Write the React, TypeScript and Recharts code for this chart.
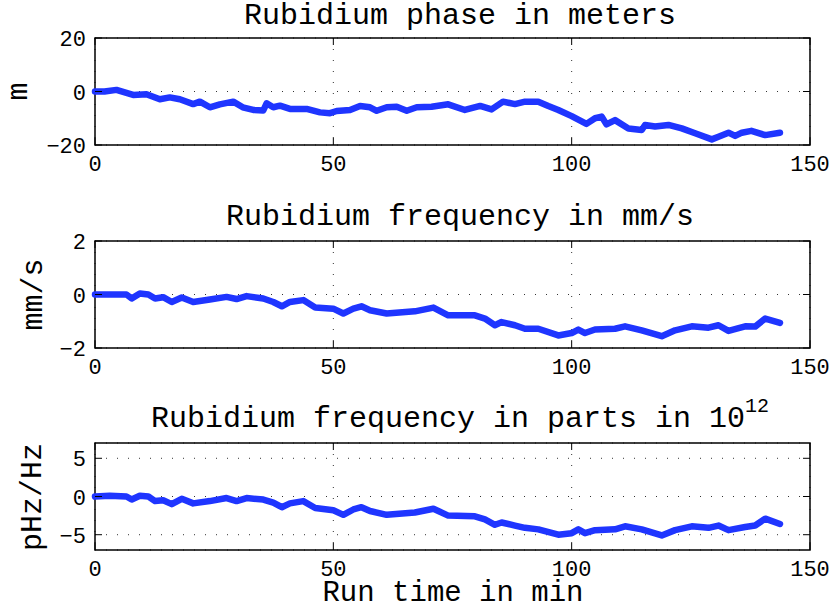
import React from 'react';
import {
    LineChart,
    Line,
    XAxis,
    YAxis,
    CartesianGrid,
    ReferenceArea,
} from 'recharts';

// run time (min) and values
const phaseTime = [
    0, 2, 4.5, 8, 10.8, 13.6, 15.7, 17.8, 20.6, 22, 24.1, 26.2, 29, 31, 33.2,
    35.3, 36, 37.4, 38.8, 40.9, 44.4, 47.2, 49.3, 50.7, 53.5, 55.6, 57.7, 59.1,
    61.2, 63.3, 65.4, 67.5, 70.6, 74.1, 77.6, 80.8, 83.2, 85.6, 88.1, 90.2, 93,
    95.1, 97.2, 100, 103.1, 104.9, 106.3, 107.3, 109.1, 111.9, 114.7, 115.4,
    117.5, 120.3, 123.1, 125.9, 129.4, 130.8, 132.9, 134.3, 135.7, 137.7, 140.6,
    143.7,
];
const phaseMeters = [
    0, 0, 0.6, -1.3, -1, -2.9, -2.2, -2.9, -4.7, -3.8, -5.9, -4.8, -3.8, -5.9,
    -6.9, -7.1, -4.4, -5.9, -5.3, -6.5, -6.5, -7.8, -8.1, -7.3, -6.9, -5.4, -5.9,
    -7.2, -5.9, -5.7, -7.2, -5.9, -5.7, -4.8, -6.9, -5.4, -6.7, -3.8, -4.7, -3.8,
    -3.8, -5.4, -6.9, -9.2, -12.1, -10, -9.4, -12.3, -10.7, -13.8, -14.4, -12.5,
    -13.1, -12.5, -13.8, -15.6, -17.9, -16.9, -15.4, -16.6, -15.4, -14.7, -16.3,
    -15.4,
];

const freqTime = [
    0, 3.1, 6.6, 7.7, 9.4, 11.2, 12.6, 14.3, 16.1, 18.2, 20.6, 24.1, 27.6, 29.7,
    31.8, 35.3, 37.4, 39.2, 40.9, 43.7, 46.2, 50, 52.1, 54.2, 55.9, 57.7, 61.2,
    67.1, 71, 74.1, 79.7, 81.8, 83.9, 85.3, 88.1, 90.2, 93, 97.2, 100, 101.4,
    102.8, 104.9, 109.1, 111.2, 114.7, 118.9, 121.7, 125.2, 128.7, 130.8, 132.9,
    136.4, 138.5, 140.6, 143.7,
];
const freqMmPerSec = [
    0, 0, 0, -0.15, 0.04, 0, -0.15, -0.1, -0.28, -0.11, -0.28, -0.19, -0.09,
    -0.17, -0.06, -0.15, -0.28, -0.44, -0.28, -0.21, -0.49, -0.53, -0.71, -0.53,
    -0.44, -0.59, -0.71, -0.63, -0.49, -0.78, -0.78, -0.9, -1.15, -1.03, -1.15,
    -1.28, -1.28, -1.53, -1.44, -1.31, -1.44, -1.31, -1.28, -1.19, -1.34, -1.56,
    -1.34, -1.19, -1.24, -1.15, -1.36, -1.19, -1.2, -0.9, -1.06,
];
const freqParts = [
    0, 0.1, 0, -0.4, 0.1, 0, -0.6, -0.5, -1.0, -0.3, -0.9, -0.6, -0.2, -0.6,
    -0.2, -0.4, -0.8, -1.4, -0.9, -0.6, -1.5, -1.8, -2.4, -1.7, -1.4, -1.9, -2.4,
    -2.1, -1.6, -2.5, -2.6, -3.0, -3.7, -3.4, -3.8, -4.1, -4.3, -5.0, -4.8, -4.3,
    -4.8, -4.4, -4.3, -3.9, -4.3, -5.1, -4.4, -3.9, -4.1, -3.8, -4.4, -4.0, -3.8,
    -2.9, -3.6,
];

const xTicks = [0, 50, 100, 150];
const phaseTicks = [-20, 0, 20];
const mmTicks = [-2, 0, 2];
const partsTicks = [-5, 0, 5];

const FONT = '"Liberation Mono", "DejaVu Sans Mono", monospace';
const BLUE = '#1f35ff';
const W = 835;
const H = 613;
const PLOT_LEFT = 95;
const PLOT_RIGHT = 810;
const PLOT_H = 107;
const TICK = 7;

const fmt = (v: number) => (v < 0 ? '\u2212' + Math.abs(v) : String(v));

const XTick = (props: any) => {
    const { x, y, payload, top } = props;
    return (
        <g>
            <line x1={x} x2={x} y1={y} y2={y - TICK} stroke="#000" />
            <line x1={x} x2={x} y1={top} y2={top + TICK} stroke="#000" />
            <text
                x={x}
                y={y + 26}
                textAnchor="middle"
                fontFamily={FONT}
                fontSize={22}
                fill="#000"
            >
                {fmt(payload.value)}
            </text>
        </g>
    );
};

const YTick = (props: any) => {
    const { x, y, payload } = props;
    return (
        <g>
            <line x1={x} x2={x + TICK} y1={y} y2={y} stroke="#000" />
            <line
                x1={PLOT_RIGHT - TICK}
                x2={PLOT_RIGHT}
                y1={y}
                y2={y}
                stroke="#000"
            />
            <text
                x={x - 9}
                y={y + 8}
                textAnchor="end"
                fontFamily={FONT}
                fontSize={22}
                fill="#000"
            >
                {fmt(payload.value)}
            </text>
        </g>
    );
};

type PanelProps = {
    top: number;
    time: number[];
    values: number[];
    domain: [number, number];
    yTicks: number[];
};

const Panel = ({ top, time, values, domain, yTicks }: PanelProps) => {
    const data = time.map((t, i) => ({ t, v: values[i] }));
    return (
        <div style={{ position: 'absolute', left: 0, top: 0 }}>
            <LineChart
                width={W}
                height={H}
                data={data}
                margin={{
                    top: top,
                    left: PLOT_LEFT - 60,
                    right: W - PLOT_RIGHT,
                    bottom: H - top - PLOT_H - 30,
                }}
            >
                <CartesianGrid stroke="#333" strokeDasharray="1 10" />
                <XAxis
                    dataKey="t"
                    type="number"
                    domain={[0, 150]}
                    ticks={xTicks}
                    height={30}
                    tickSize={0}
                    tickMargin={0}
                    tickLine={false}
                    axisLine={false}
                    interval={0}
                    tick={(p: any) => <XTick {...p} top={top} />}
                />
                <YAxis
                    type="number"
                    domain={domain}
                    ticks={yTicks}
                    width={60}
                    tickSize={0}
                    tickMargin={0}
                    tickLine={false}
                    axisLine={false}
                    interval={0}
                    tick={(p: any) => <YTick {...p} />}
                />
                <Line
                    type="linear"
                    dataKey="v"
                    stroke={BLUE}
                    strokeWidth={6.5}
                    strokeLinejoin="round"
                    strokeLinecap="round"
                    dot={false}
                    isAnimationActive={false}
                />
                <ReferenceArea
                    x1={0}
                    x2={150}
                    y1={domain[0]}
                    y2={domain[1]}
                    fill="none"
                    fillOpacity={0}
                    stroke="#000"
                    strokeWidth={1.5}
                    strokeOpacity={1}
                />
            </LineChart>
        </div>
    );
};

const Labels = () => (
    <svg
        width={W}
        height={H}
        style={{ position: 'absolute', left: 0, top: 0, pointerEvents: 'none' }}
        fontFamily={FONT}
        fill="#000"
    >
        <text x={460} y={24} fontSize={30} textAnchor="middle">
            Rubidium phase in meters
        </text>
        <text x={460} y={225} fontSize={30} textAnchor="middle">
            Rubidium frequency in mm/s
        </text>
        <text x={151} y={427} fontSize={30}>
            Rubidium frequency in parts in 10
            <tspan fontSize={20} dy={-15}>
                12
            </tspan>
        </text>
        <text x={453} y={601} fontSize={29} textAnchor="middle">
            Run time in min
        </text>
        <text
            transform="translate(27,91.5) rotate(-90)"
            fontSize={30}
            textAnchor="middle"
        >
            m
        </text>
        <text
            transform="translate(42,294.5) rotate(-90)"
            fontSize={30}
            textAnchor="middle"
        >
            mm/s
        </text>
        <text
            transform="translate(41,497) rotate(-90)"
            fontSize={30}
            textAnchor="middle"
        >
            pHz/Hz
        </text>
    </svg>
);

const App = () => (
    <div
        style={{
            position: 'absolute',
            left: 0,
            top: 0,
            width: W,
            height: H,
            background: '#fff',
        }}
    >
        <Panel
            top={38}
            time={phaseTime}
            values={phaseMeters}
            domain={[-20, 20]}
            yTicks={phaseTicks}
        />
        <Panel
            top={241}
            time={freqTime}
            values={freqMmPerSec}
            domain={[-2, 2]}
            yTicks={mmTicks}
        />
        <Panel
            top={443}
            time={freqTime}
            values={freqParts}
            domain={[-7, 7]}
            yTicks={partsTicks}
        />
        <Labels />
    </div>
);

export default App;
